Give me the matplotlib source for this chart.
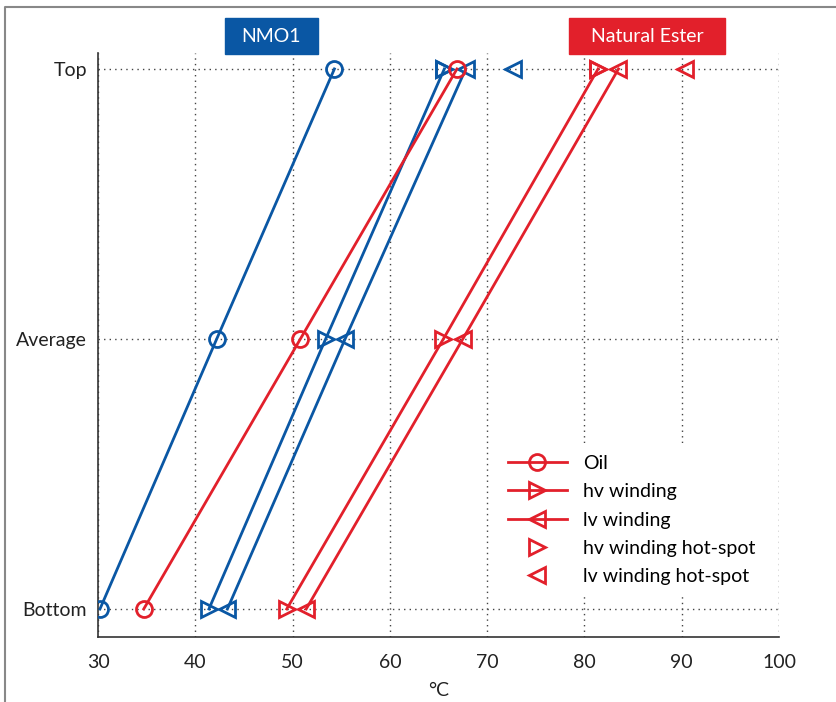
import matplotlib.pyplot as plt
from matplotlib.lines import Line2D
from matplotlib.patches import Rectangle

levels = ['Bottom', 'Average', 'Top']
ypos = [0, 1, 2]

# NMO1 (blue), values at Bottom, Average, Top
nmo_oil = [30.2, 42.2, 54.3]
nmo_hv = [41.4, 53.4, 65.6]
nmo_lv = [43.3, 55.4, 67.8]
nmo_hv_hot = 65.6
nmo_lv_hot = 72.7

# Natural Ester (red)
ester_oil = [34.7, 50.8, 66.9]
ester_hv = [49.4, 65.5, 81.4]
ester_lv = [51.4, 67.5, 83.5]
ester_hv_hot = 81.4
ester_lv_hot = 90.3

xticks = [30, 40, 50, 60, 70, 80, 90, 100]

blue = '#0a57a4'
red = '#e2202b'

plt.rcParams['font.family'] = ['Lato', 'DejaVu Sans']

fig = plt.figure(figsize=(8.37, 7.02), dpi=100)
ax = fig.add_axes([0.1171, 0.0926, 0.8136, 0.8319])

lw = 2.0
ms = 11.5
mew = 2.0

def draw_set(oil, hv, lv, hv_hot, lv_hot, c):
    ax.plot(oil, ypos, color=c, lw=lw, marker='o', ms=ms, mfc='none', mew=mew, zorder=3)
    ax.plot(hv, ypos, color=c, lw=lw, marker='>', ms=ms, mfc='none', mew=mew, zorder=3)
    ax.plot(lv, ypos, color=c, lw=lw, marker='<', ms=ms, mfc='none', mew=mew, zorder=3)
    ax.plot([hv_hot], [2], ls='none', color=c, marker='>', ms=ms, mfc='none', mew=mew, zorder=3)
    ax.plot([lv_hot], [2], ls='none', color=c, marker='<', ms=ms, mfc='none', mew=mew, zorder=3)

draw_set(nmo_oil, nmo_hv, nmo_lv, nmo_hv_hot, nmo_lv_hot, blue)
draw_set(ester_oil, ester_hv, ester_lv, ester_hv_hot, ester_lv_hot, red)

ax.set_xlim(30, 100)
ax.set_ylim(-0.1037, 2.059)
ax.set_xticks(xticks)
ax.set_yticks(ypos)
ax.set_yticklabels(levels)
ax.tick_params(length=0, labelsize=14, colors='#222222')
ax.tick_params(axis='y', pad=8)
ax.tick_params(axis='x', pad=12)
ax.grid(True, ls=(0, (1, 3)), color='#444444', lw=1.0)
for s in ['top', 'right']:
    ax.spines[s].set_visible(False)
for s in ['left', 'bottom']:
    ax.spines[s].set_color('#333333')
    ax.spines[s].set_linewidth(1.2)
ax.set_xlabel('°C', fontsize=14, labelpad=8, color='#222222')

handles = [
    Line2D([], [], color=red, lw=lw, marker='o', ms=ms, mfc='none', mew=mew),
    Line2D([], [], color=red, lw=lw, marker='>', ms=ms, mfc='none', mew=mew),
    Line2D([], [], color=red, lw=lw, marker='<', ms=ms, mfc='none', mew=mew),
    Line2D([], [], color=red, ls='none', marker='>', ms=ms, mfc='none', mew=mew),
    Line2D([], [], color=red, ls='none', marker='<', ms=ms, mfc='none', mew=mew),
]
labels = ['Oil', 'hv winding', 'lv winding', 'hv winding hot-spot', 'lv winding hot-spot']
leg = ax.legend(handles, labels, loc='upper left', bbox_to_anchor=(0.5853, 0.3316),
                frameon=True, fontsize=14, handlelength=3.0, labelspacing=0.58,
                handletextpad=0.85, borderpad=0.6, borderaxespad=0)
leg.get_frame().set_edgecolor('none')
leg.get_frame().set_facecolor('white')
leg.get_frame().set_alpha(1)
leg.set_zorder(5)

# series title boxes
fig.patches.append(Rectangle((225 / 837, 1 - 54 / 702), 93 / 837, 36 / 702,
                             transform=fig.transFigure, color=blue))
fig.text(271.5 / 837, 1 - 37 / 702, 'NMO1', color='white', fontsize=14,
         ha='center', va='center')
fig.patches.append(Rectangle((569 / 837, 1 - 54 / 702), 156 / 837, 36 / 702,
                             transform=fig.transFigure, color=red))
fig.text(647 / 837, 1 - 37 / 702, 'Natural Ester', color='white', fontsize=14,
         ha='center', va='center')

# outer frame (top and left edges)
fig.lines.append(Line2D([5 / 837, 5 / 837, 1], [0, 1 - 7 / 702, 1 - 7 / 702],
                        transform=fig.transFigure, color='#888888', lw=1.5))

fig.savefig('out.png', dpi=100)
